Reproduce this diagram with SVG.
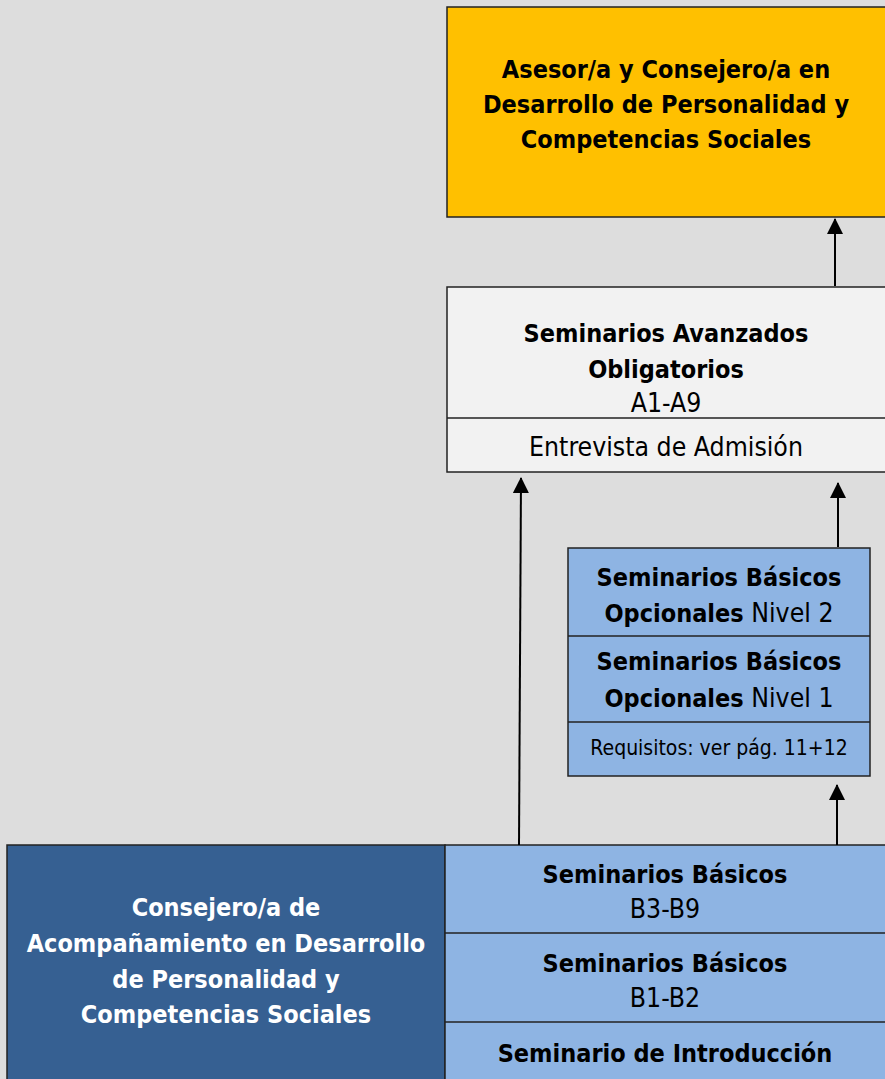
<svg xmlns="http://www.w3.org/2000/svg" width="885" height="1079" viewBox="0 0 885 1079">
<defs>
<style>
text{font-family:"DejaVu Sans Condensed","DejaVu Sans",sans-serif;font-stretch:condensed;text-anchor:middle;font-size:26.4px;fill:#000}
.b{font-weight:bold;font-size:25px}
tspan.b{font-size:25px}
.w{fill:#fff}
.s{font-size:21px}
.box{stroke:#222;stroke-width:1.5}
.ln{stroke:#000;stroke-width:2;fill:none}
</style>
<marker id="arr" viewBox="0 0 16 16" refX="15" refY="8" markerWidth="16" markerHeight="16" orient="auto" markerUnits="userSpaceOnUse">
<path d="M0,0 L16,8 L0,16 z" fill="#000"/>
</marker>
</defs>
<rect x="0" y="0" width="885" height="1079" fill="#dddddd"/>

<g id="asesor">
<rect class="box" x="447" y="7" width="440" height="210" fill="#FFC000"/>
<text class="b" x="666" y="78">Asesor/a y Consejero/a en</text>
<text class="b" x="666" y="113">Desarrollo de Personalidad y</text>
<text class="b" x="666" y="148">Competencias Sociales</text>
</g>

<g id="avanzados">
<rect class="box" x="447" y="287" width="440" height="185" fill="#f2f2f2"/>
<line class="box" x1="447" y1="418" x2="887" y2="418"/>
<text class="b" x="666" y="342">Seminarios Avanzados</text>
<text class="b" x="666" y="378">Obligatorios</text>
<text x="666" y="412">A1-A9</text>
<text x="666" y="456">Entrevista de Admisión</text>
</g>

<g id="opcionales">
<rect class="box" x="568" y="548" width="302" height="228" fill="#8EB4E3"/>
<line class="box" x1="568" y1="636" x2="870" y2="636"/>
<line class="box" x1="568" y1="722" x2="870" y2="722"/>
<text class="b" x="719" y="586">Seminarios Básicos</text>
<text x="719" y="622"><tspan class="b">Opcionales</tspan> Nivel 2</text>
<text class="b" x="719" y="670">Seminarios Básicos</text>
<text x="719" y="707"><tspan class="b">Opcionales</tspan> Nivel 1</text>
<text class="s" x="719" y="755">Requisitos: ver pág. 11+12</text>
</g>

<g id="consejero">
<rect class="box" x="7" y="845" width="438" height="240" fill="#366092"/>
<text class="b w" x="226" y="916">Consejero/a de</text>
<text class="b w" x="226" y="952">Acompañamiento en Desarrollo</text>
<text class="b w" x="226" y="988">de Personalidad y</text>
<text class="b w" x="226" y="1023">Competencias Sociales</text>
</g>

<g id="basicos">
<rect class="box" x="445" y="845" width="442" height="240" fill="#8EB4E3"/>
<line class="box" x1="445" y1="933" x2="887" y2="933"/>
<line class="box" x1="445" y1="1022" x2="887" y2="1022"/>
<text class="b" x="665" y="883">Seminarios Básicos</text>
<text x="665" y="918">B3-B9</text>
<text class="b" x="665" y="972">Seminarios Básicos</text>
<text x="665" y="1007">B1-B2</text>
<text class="b" x="665" y="1062">Seminario de Introducción</text>
</g>

<g id="connectors">
<line class="ln" x1="835" y1="286" x2="835" y2="219" marker-end="url(#arr)"/>
<line class="ln" x1="519" y1="845" x2="521" y2="478" marker-end="url(#arr)"/>
<line class="ln" x1="838" y1="547" x2="838" y2="483" marker-end="url(#arr)"/>
<line class="ln" x1="837" y1="845" x2="837" y2="785" marker-end="url(#arr)"/>
</g>
</svg>
